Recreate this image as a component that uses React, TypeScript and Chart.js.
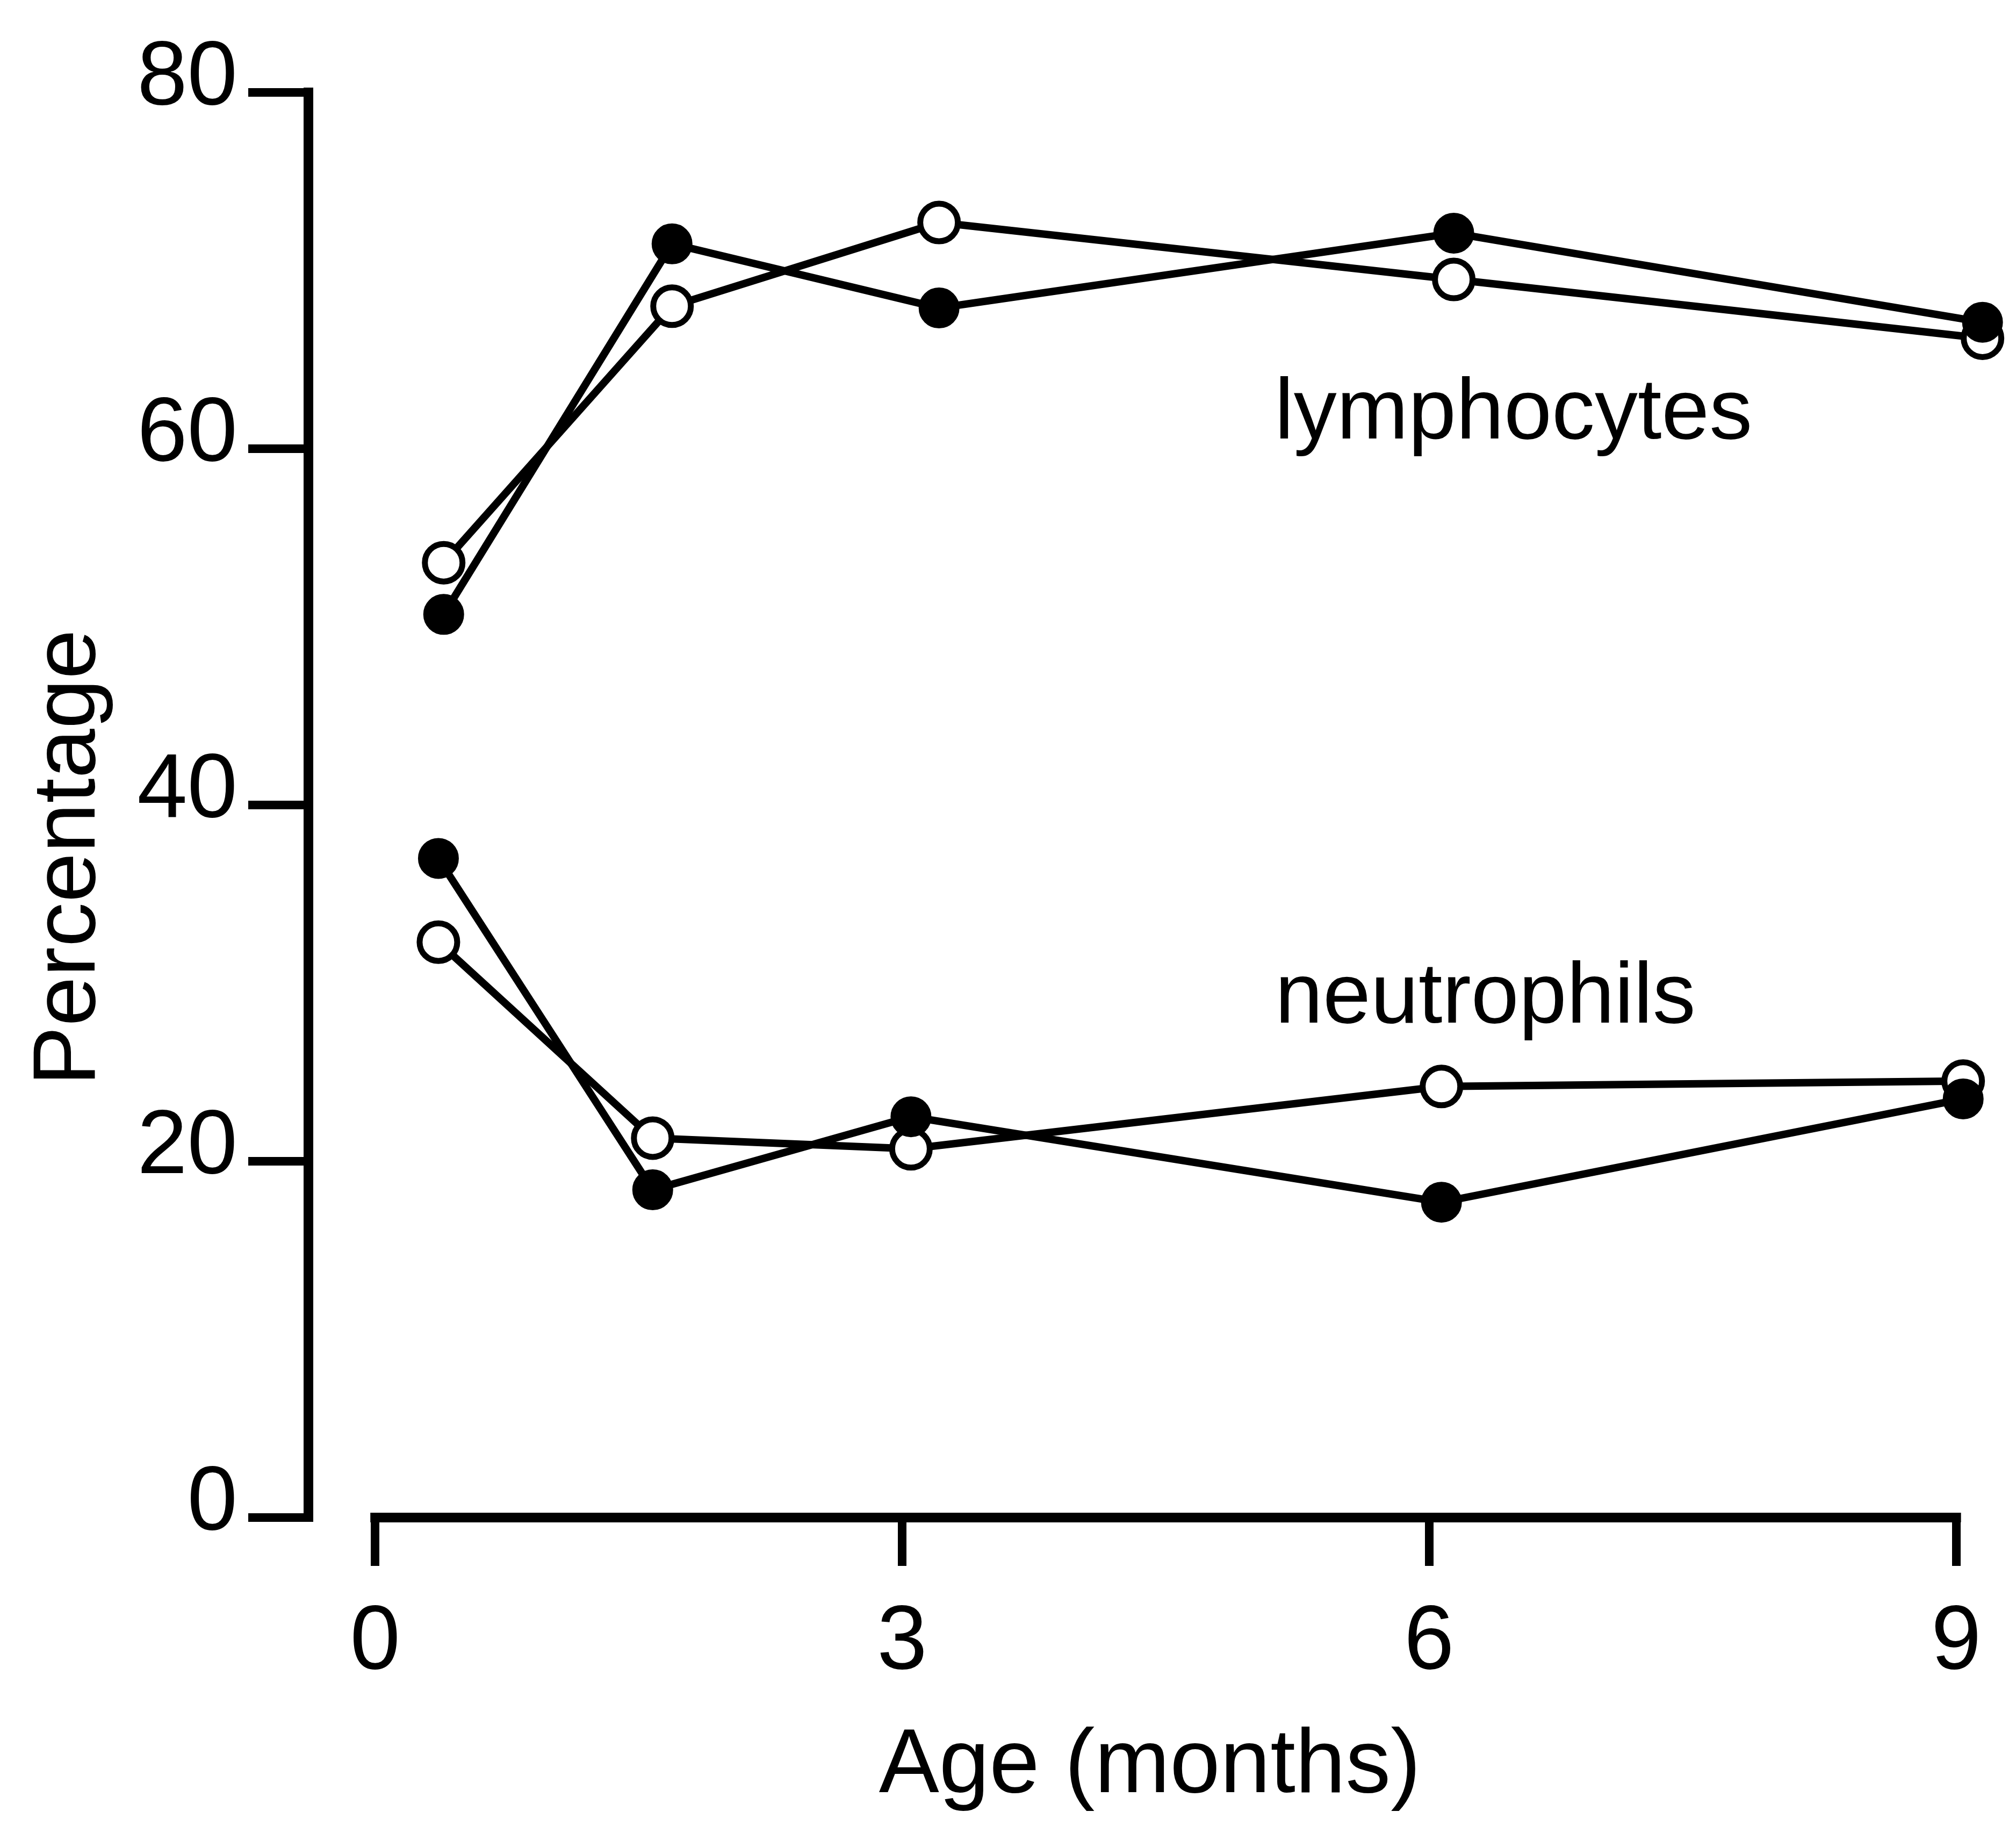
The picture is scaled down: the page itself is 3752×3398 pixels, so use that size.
import React, { useEffect, useRef } from "react";
import { Chart, registerables } from "chart.js";

Chart.register(...registerables);

// ---- data ----
const xTickValues = [0, 3, 6, 9];
const yTickValues = [0, 20, 40, 60, 80];

const lymphAges = [0.39, 1.69, 3.21, 6.14, 9.15];
const lymphFilled = [50.7, 71.5, 67.9, 72.1, 67.1];
const lymphOpen = [53.6, 68.0, 72.7, 69.5, 66.2];

const neutAges = [0.36, 1.58, 3.05, 6.07, 9.04];
const neutFilled = [37.0, 18.4, 22.5, 17.7, 23.5];
const neutOpen = [32.3, 21.3, 20.7, 24.2, 24.5];

const labelTexts = ["lymphocytes", "neutrophils"];
const labelX = [6.48, 6.32];
const labelY = [61.9, 29.1];

const xTitle = "Age (months)";
const yTitle = "Percentage";

// ---- styles ----
const W = 3752;
const H = 3398;
const FONT = "'Liberation Sans', Arial, sans-serif";
const INK = "#000000";

const toPoints = (xs: number[], ys: number[]) => xs.map((x, i) => ({ x, y: ys[i] }));

const filledStyle = {
  borderColor: INK,
  backgroundColor: INK,
  borderWidth: 14,
  pointRadius: 37,
  pointBackgroundColor: INK,
  pointBorderColor: INK,
  pointBorderWidth: 2,
  tension: 0,
  clip: false as const,
};
const openStyle = {
  borderColor: INK,
  backgroundColor: "#ffffff",
  borderWidth: 14,
  pointRadius: 35,
  pointBackgroundColor: "#ffffff",
  pointBorderColor: INK,
  pointBorderWidth: 11,
  tension: 0,
  clip: false as const,
};

const decorPlugin = {
  id: "decor",
  afterDraw(chart: any) {
    const { ctx, chartArea, scales } = chart;
    const xs = scales.x;
    const ys = scales.y;
    ctx.save();
    // x axis line from first to last tick
    ctx.strokeStyle = INK;
    ctx.lineWidth = 18;
    ctx.lineCap = "square";
    ctx.beginPath();
    const y0 = chartArea.bottom;
    ctx.moveTo(xs.getPixelForValue(xTickValues[0]), y0);
    ctx.lineTo(xs.getPixelForValue(xTickValues[xTickValues.length - 1]), y0);
    ctx.stroke();

    // y axis title
    ctx.fillStyle = INK;
    ctx.font = `166px ${FONT}`;
    ctx.textAlign = "center";
    ctx.textBaseline = "middle";
    ctx.translate(130, 1596);
    ctx.rotate(-Math.PI / 2);
    ctx.fillText(yTitle, 0, 0);
    ctx.restore();

    // series annotations
    ctx.save();
    ctx.fillStyle = INK;
    ctx.font = `160px ${FONT}`;
    ctx.textAlign = "center";
    ctx.textBaseline = "middle";
    labelTexts.forEach((t, i) => {
      ctx.fillText(t, xs.getPixelForValue(labelX[i]), ys.getPixelForValue(labelY[i]));
    });
    ctx.restore();
  },
};

export default function App() {
  const ref = useRef<HTMLCanvasElement | null>(null);

  useEffect(() => {
    if (!ref.current) return;
    const chart = new Chart(ref.current, {
      type: "line",
      data: {
        datasets: [
          { label: "lymphocytes (filled)", data: toPoints(lymphAges, lymphFilled), ...filledStyle },
          { label: "neutrophils (filled)", data: toPoints(neutAges, neutFilled), ...filledStyle },
          { label: "lymphocytes (open)", data: toPoints(lymphAges, lymphOpen), ...openStyle },
          { label: "neutrophils (open)", data: toPoints(neutAges, neutOpen), ...openStyle },
        ],
      },
      options: {
        animation: false,
        responsive: false,
        maintainAspectRatio: false,
        devicePixelRatio: 1,
        layout: { padding: { left: 0, right: 39, top: 172, bottom: 0 } },
        plugins: {
          legend: { display: false },
          tooltip: { enabled: false },
        },
        scales: {
          x: {
            type: "linear",
            min: -0.38,
            max: 9.2,
            afterBuildTicks: (s: any) => {
              s.ticks = xTickValues.map((v) => ({ value: v }));
            },
            afterFit: (s: any) => {
              s.height = 574;
            },
            border: { display: false },
            grid: {
              display: true,
              drawOnChartArea: false,
              drawTicks: true,
              tickLength: 90,
              tickWidth: 16,
              lineWidth: 16,
              color: INK,
            },
            ticks: {
              color: INK,
              font: { family: FONT, size: 168, lineHeight: 1.2 },
              padding: 44,
              maxRotation: 0,
              autoSkip: false,
              callback: (v: any) => String(v),
            },
            title: {
              display: true,
              text: xTitle,
              color: INK,
              font: { family: FONT, size: 168, lineHeight: 1.2 },
              padding: { top: 0, bottom: 9 },
            },
          },
          y: {
            type: "linear",
            min: 0,
            max: 80,
            afterBuildTicks: (s: any) => {
              s.ticks = yTickValues.map((v) => ({ value: v }));
            },
            afterFit: (s: any) => {
              s.width = 574;
            },
            border: { display: true, color: INK, width: 18 },
            grid: {
              display: true,
              drawOnChartArea: false,
              drawTicks: true,
              tickLength: 112,
              tickWidth: 16,
              lineWidth: 16,
              color: INK,
            },
            ticks: {
              color: INK,
              font: { family: FONT, size: 168, lineHeight: 1.2 },
              padding: 20,
              labelOffset: -24,
              autoSkip: false,
              callback: (v: any) => String(v),
            },
            title: { display: false },
          },
        },
      },
      plugins: [decorPlugin],
    });
    return () => chart.destroy();
  }, []);

  return (
    <div style={{ position: "fixed", left: 0, top: 0, width: W, height: H, background: "#ffffff" }}>
      <canvas ref={ref} width={W} height={H} style={{ width: W, height: H, display: "block" }} />
    </div>
  );
}
